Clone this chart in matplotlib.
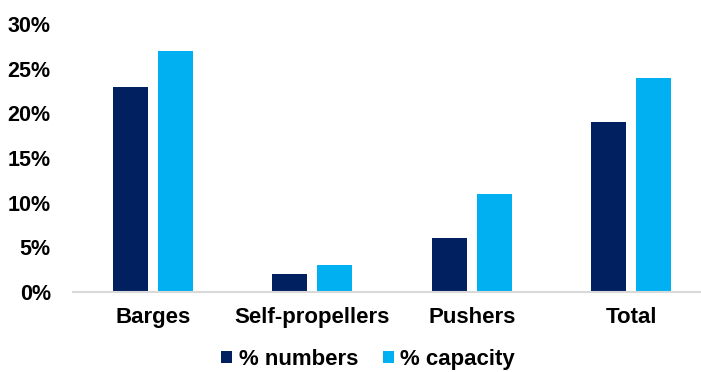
import numpy as np
import matplotlib.pyplot as plt
from matplotlib.ticker import FuncFormatter

categories = ["Barges", "Self-propellers", "Pushers", "Total"]
pct_numbers = [23, 2, 6, 19]
pct_capacity = [27, 3, 11, 24]
y_ticks = [0, 5, 10, 15, 20, 25, 30]

plt.rcParams['font.family'] = ['Liberation Sans', 'DejaVu Sans']
plt.rcParams['font.weight'] = 'bold'

fig = plt.figure(figsize=(7.01, 3.72), dpi=100)
ax = fig.add_axes([73 / 701, 80 / 372, 628 / 701, 268 / 372])

x = np.arange(len(categories))
w = 0.22
off = 0.141
ax.bar(x - off, pct_numbers, w, color="#002060", label="% numbers")
ax.bar(x + off, pct_capacity, w, color="#00B0F0", label="% capacity")

ax.set_xlim(-0.5, 3.437)
ax.set_ylim(0, 30)
ax.set_yticks(y_ticks)
ax.yaxis.set_major_formatter(FuncFormatter(lambda v, p: f"{v:.0f}%"))
ax.set_xticks(x)
ax.set_xticklabels(categories)

for s in ["top", "right", "left"]:
    ax.spines[s].set_visible(False)
ax.spines["bottom"].set_color("#D9D9D9")
ax.spines["bottom"].set_linewidth(1.5)
ax.tick_params(axis="both", length=0, colors="black")
ax.tick_params(axis="y", pad=16, labelsize=15.5)
ax.tick_params(axis="x", pad=11, labelsize=16)

h, l = ax.get_legend_handles_labels()
fig.legend(h, l, loc="lower center", bbox_to_anchor=(368 / 701, 0.0), ncol=2, frameon=False,
           fontsize=16, handlelength=0.5, handleheight=0.5, handletextpad=0.3,
           columnspacing=1.1, borderaxespad=0.0, borderpad=0.1)

fig.savefig("out.png", dpi=100)
